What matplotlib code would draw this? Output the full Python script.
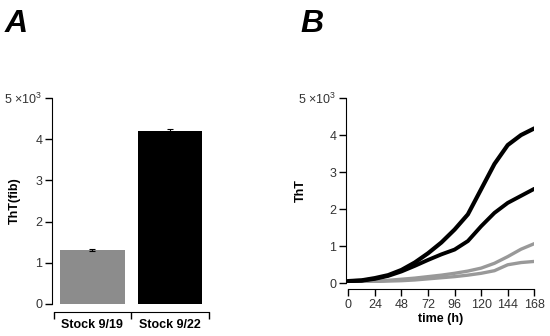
import matplotlib.pyplot as plt
import numpy as np

plt.rcParams['font.family'] = ['Liberation Sans', 'DejaVu Sans']
plt.rcParams['mathtext.fontset'] = 'custom'
plt.rcParams['mathtext.rm'] = 'Liberation Sans'

# Panel A data (x10^3)
stocks = ['Stock 9/19', 'Stock 9/22']
tht_fib = [1.31, 4.19]
tht_err = [0.03, 0.05]
bar_colors = ['#8c8c8c', '#000000']

# Panel B data (x10^3), read every 12 h
time_h = [0, 12, 24, 36, 48, 60, 72, 84, 96, 108, 120, 132, 144, 156, 168]
black_1 = [0.06, 0.08, 0.14, 0.22, 0.36, 0.56, 0.81, 1.10, 1.45, 1.86, 2.54, 3.22, 3.73, 4.00, 4.18]
black_2 = [0.06, 0.07, 0.12, 0.20, 0.32, 0.47, 0.63, 0.78, 0.91, 1.14, 1.54, 1.90, 2.17, 2.36, 2.55]
gray_1 = [0.06, 0.05, 0.05, 0.08, 0.11, 0.14, 0.18, 0.22, 0.27, 0.33, 0.41, 0.54, 0.72, 0.92, 1.07]
gray_2 = [0.06, 0.05, 0.05, 0.06, 0.07, 0.09, 0.12, 0.15, 0.18, 0.22, 0.27, 0.34, 0.50, 0.56, 0.59]

yticks = [0, 1, 2, 3, 4, 5]
ytick_labels = ['0', '1', '2', '3', '4', r'5 ×10$^{3}$']
tick_color = '#333333'
fs = 9

fig = plt.figure(figsize=(5.5, 3.36), dpi=100)

# ---- Panel A ----
axA = fig.add_axes([52/550, 32/336, 157/550, 206/336])
xpos = np.arange(len(stocks))
axA.bar(xpos, tht_fib, width=0.83, color=bar_colors)
axA.errorbar(xpos, tht_fib, yerr=tht_err, fmt='none', ecolor='black',
             elinewidth=0.8, capsize=2, capthick=0.8)
axA.set_xlim(-0.52, 1.49)
axA.set_ylim(0, 5)
axA.set_yticks(yticks)
axA.set_yticklabels(ytick_labels)
axA.tick_params(axis='y', length=5, width=1, labelsize=fs, labelcolor=tick_color, pad=2)
axA.set_xticks([-0.5, 0.5, 1.5])
axA.set_xticklabels([])
axA.tick_params(axis='x', which='major', length=5, width=1, direction='out')
axA.tick_params(axis='x', which='minor', length=0, pad=3)
# bar names drawn under the bars, below the offset axis line
for x, name in zip(xpos, stocks):
    axA.text(x, -0.075, name, transform=axA.get_xaxis_transform(),
             ha='center', va='top', fontsize=fs, fontweight='bold')
axA.spines['top'].set_visible(False)
axA.spines['right'].set_visible(False)
axA.spines['bottom'].set_position(('outward', 6))
axA.spines['bottom'].set_bounds(-0.5, 1.5)
axA.set_ylabel('ThT(fib)', fontweight='bold', fontsize=fs)
axA.yaxis.set_label_coords(-0.2, 0.5)
fig.text(5/550, 1 - 32/336, 'A', fontsize=23, fontweight='bold', style='italic')

# ---- Panel B ----
axB = fig.add_axes([346/550, 52.7/336, 188.3/550, 185.3/336])
axB.plot(time_h, gray_1, color='#999999', lw=2.4, solid_capstyle='round')
axB.plot(time_h, gray_2, color='#999999', lw=2.4, solid_capstyle='round')
axB.plot(time_h, black_2, color='black', lw=2.8, solid_capstyle='round')
axB.plot(time_h, black_1, color='black', lw=3.0, solid_capstyle='round')
axB.set_xlim(-2.1, 168)
axB.set_ylim(0, 5)
axB.set_xticks([0, 24, 48, 72, 96, 120, 144, 168])
axB.set_yticks(yticks)
axB.set_yticklabels(ytick_labels)
axB.tick_params(length=5, width=1, labelsize=fs, labelcolor=tick_color, pad=2)
axB.spines['top'].set_visible(False)
axB.spines['right'].set_visible(False)
axB.spines['bottom'].set_position(('outward', 4))
axB.spines['bottom'].set_bounds(0, 168)
axB.set_xlabel('time (h)', fontweight='bold', fontsize=fs, labelpad=2)
axB.set_ylabel('ThT', fontweight='bold', fontsize=fs)
axB.yaxis.set_label_coords(-0.21, 0.5)
fig.text(300/550, 1 - 32/336, 'B', fontsize=23, fontweight='bold', style='italic')

fig.savefig('out.png', dpi=100)
